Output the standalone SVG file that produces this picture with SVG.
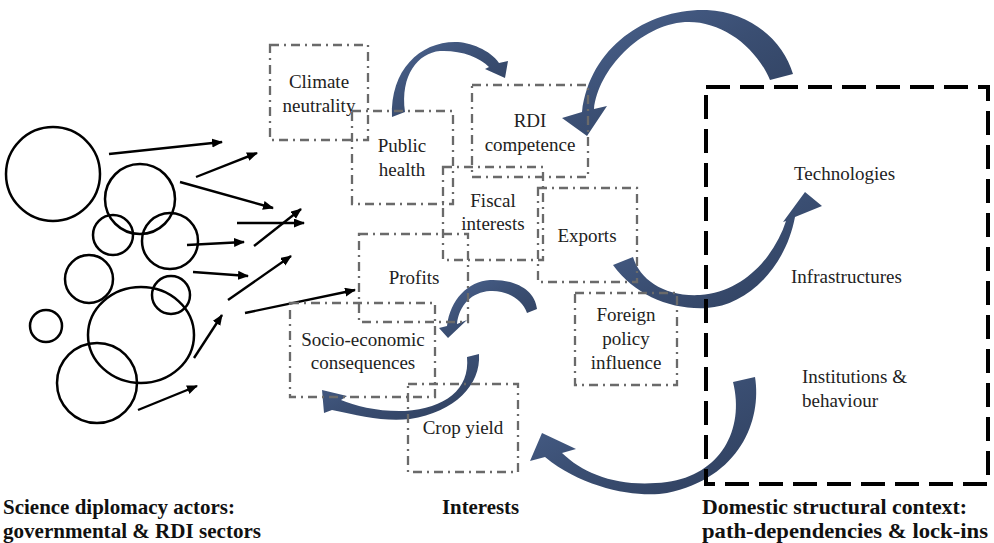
<svg xmlns="http://www.w3.org/2000/svg" width="994" height="543" viewBox="0 0 994 543">
  <defs>
    <style>
      .actor { fill: none; stroke: #000; stroke-width: 2.5; }
      .push { fill: none; stroke: #000; stroke-width: 2.4; marker-end: url(#tip); }
      .box { fill: none; stroke: #6a6a6a; stroke-width: 2.3; stroke-dasharray: 9 5 2 5; }
      .frame { fill: none; stroke: #000; stroke-width: 4; stroke-dasharray: 24 10; }
      .flow { fill: url(#flowFill); }
      .lbl { font-family: "Liberation Serif", "DejaVu Serif", serif; font-size: 19px; fill: #222; text-anchor: middle; }
      .ctx { font-family: "Liberation Serif", "DejaVu Serif", serif; font-size: 19px; fill: #222; }
      .cap { font-family: "Liberation Serif", "DejaVu Serif", serif; font-size: 21px; font-weight: bold; fill: #111; }
    </style>
    <marker id="tip" markerUnits="userSpaceOnUse" markerWidth="12" markerHeight="10" refX="10" refY="4.5" orient="auto">
      <path d="M0,0 L11,4.5 L0,9 z" fill="#000"/>
    </marker>
    <linearGradient id="flowFill" x1="0" y1="0" x2="1" y2="1">
      <stop offset="0" stop-color="#4c6490"/>
      <stop offset="0.5" stop-color="#3a4e72"/>
      <stop offset="1" stop-color="#2f3f5d"/>
    </linearGradient>
  </defs>

  <!-- actors -->
  <g id="actors">
    <circle class="actor" cx="53" cy="174" r="47"/>
    <circle class="actor" cx="140" cy="199" r="35"/>
    <circle class="actor" cx="113" cy="235" r="20"/>
    <circle class="actor" cx="170" cy="241" r="28"/>
    <circle class="actor" cx="89" cy="279" r="24"/>
    <circle class="actor" cx="171" cy="295" r="19"/>
    <ellipse class="actor" cx="141" cy="335" rx="53" ry="48"/>
    <circle class="actor" cx="46" cy="326" r="16"/>
    <circle class="actor" cx="97" cy="383" r="40"/>
  </g>

  <!-- straight connectors from actors toward interests -->
  <g id="connectors">
    <line class="push" x1="109" y1="154" x2="222" y2="142"/>
    <line class="push" x1="196" y1="177" x2="257" y2="153"/>
    <line class="push" x1="180" y1="182" x2="273" y2="208"/>
    <line class="push" x1="237" y1="223" x2="304" y2="223"/>
    <line class="push" x1="254" y1="246" x2="301" y2="209"/>
    <line class="push" x1="187" y1="245" x2="244" y2="242"/>
    <line class="push" x1="193" y1="272" x2="248" y2="276"/>
    <line class="push" x1="228" y1="300" x2="291" y2="256"/>
    <line class="push" x1="245" y1="313" x2="355" y2="290"/>
    <line class="push" x1="194" y1="358" x2="222" y2="315"/>
    <line class="push" x1="138" y1="410" x2="197" y2="386"/>

    <!-- curved feedback arrows -->
    <path class="flow" d="M392,117 C390,70 420,42 455,42 C470,42 490,50 499,63 L508,61 L505,78 L485,69 L489,67 C480,57 460,50 440,51 C418,53 400,75 405,112 Z"/>
    <path class="flow" d="M793,74 C783,40 750,12 707,10 C650,8 590,45 582,112 L562,118 L587,136 L607,106 L594,109 C598,70 640,25 685,22 C720,20 755,45 770,80 Z"/>
    <path class="flow" d="M613,265 C635,295 670,310 707,308 C745,306 785,270 795,217 L822,206 L805,192 L783,222 L786,221 C775,255 745,292 700,295 C665,297 640,280 633,257 Z"/>
    <path class="flow" d="M755,377 C762,420 740,478 667,493 C640,498 585,490 545,457 L530,461 L542,433 L576,449 L562,453 C585,475 620,488 667,482 C720,475 745,430 733,382 Z"/>
    <path class="flow" d="M537,309 C535,290 515,279 490,280 C468,281 450,300 447,326 L439,328 L448,338 L467,320 L457,324 C459,305 472,292 490,291 C505,290 522,298 527,313 Z"/>
    <path class="flow" d="M479,354 C481,385 455,412 410,419 C385,422 360,416 332,410 L324,413 L322,390 L347,396 L341,400 C355,406 380,412 405,411 C445,408 470,390 467,357 Z"/>
  </g>

  <!-- interests -->
  <g id="climate"><rect class="box" x="270" y="45" width="98" height="95"/><text class="lbl" x="319" y="88">Climate</text><text class="lbl" x="319" y="112">neutrality</text></g>
  <g id="health"><rect class="box" x="352" y="111" width="101" height="93"/><text class="lbl" x="402" y="152">Public</text><text class="lbl" x="402" y="176">health</text></g>
  <g id="rdi"><rect class="box" x="472" y="85" width="116" height="92"/><text class="lbl" x="530" y="127">RDI</text><text class="lbl" x="530" y="151">competence</text></g>
  <g id="fiscal"><rect class="box" x="443" y="167" width="100" height="93"/><text class="lbl" x="493" y="207">Fiscal</text><text class="lbl" x="493" y="230">interests</text></g>
  <g id="exports"><rect class="box" x="538" y="188" width="99" height="94"/><text class="lbl" x="587" y="242">Exports</text></g>
  <g id="profits"><rect class="box" x="359" y="234" width="109" height="88"/><text class="lbl" x="414" y="284">Profits</text></g>
  <g id="socio"><rect class="box" x="290" y="303" width="145" height="94"/><text class="lbl" x="363" y="346">Socio-economic</text><text class="lbl" x="363" y="369">consequences</text></g>
  <g id="crop"><rect class="box" x="408" y="384" width="110" height="88"/><text class="lbl" x="463" y="434">Crop yield</text></g>
  <g id="foreign"><rect class="box" x="575" y="293" width="102" height="92"/><text class="lbl" x="626" y="321">Foreign</text><text class="lbl" x="626" y="345">policy</text><text class="lbl" x="626" y="369">influence</text></g>

  <!-- domestic structural context -->
  <g id="context">
    <rect class="frame" x="706" y="87" width="282" height="397"/>
    <text class="ctx" x="794" y="180">Technologies</text>
    <text class="ctx" x="791" y="283">Infrastructures</text>
    <text class="ctx" x="802" y="383">Institutions &amp;</text>
    <text class="ctx" x="802" y="407">behaviour</text>
  </g>

  <!-- column captions -->
  <g id="captions">
    <text class="cap" x="3" y="514" textLength="232" lengthAdjust="spacingAndGlyphs">Science diplomacy actors:</text>
    <text class="cap" x="3" y="538" textLength="258" lengthAdjust="spacingAndGlyphs">governmental &amp; RDI sectors</text>
    <text class="cap" x="442" y="514" textLength="77" lengthAdjust="spacingAndGlyphs">Interests</text>
    <text class="cap" x="702" y="514" textLength="265" lengthAdjust="spacingAndGlyphs">Domestic structural context:</text>
    <text class="cap" x="702" y="538" textLength="286" lengthAdjust="spacingAndGlyphs">path-dependencies &amp; lock-ins</text>
  </g>
</svg>
